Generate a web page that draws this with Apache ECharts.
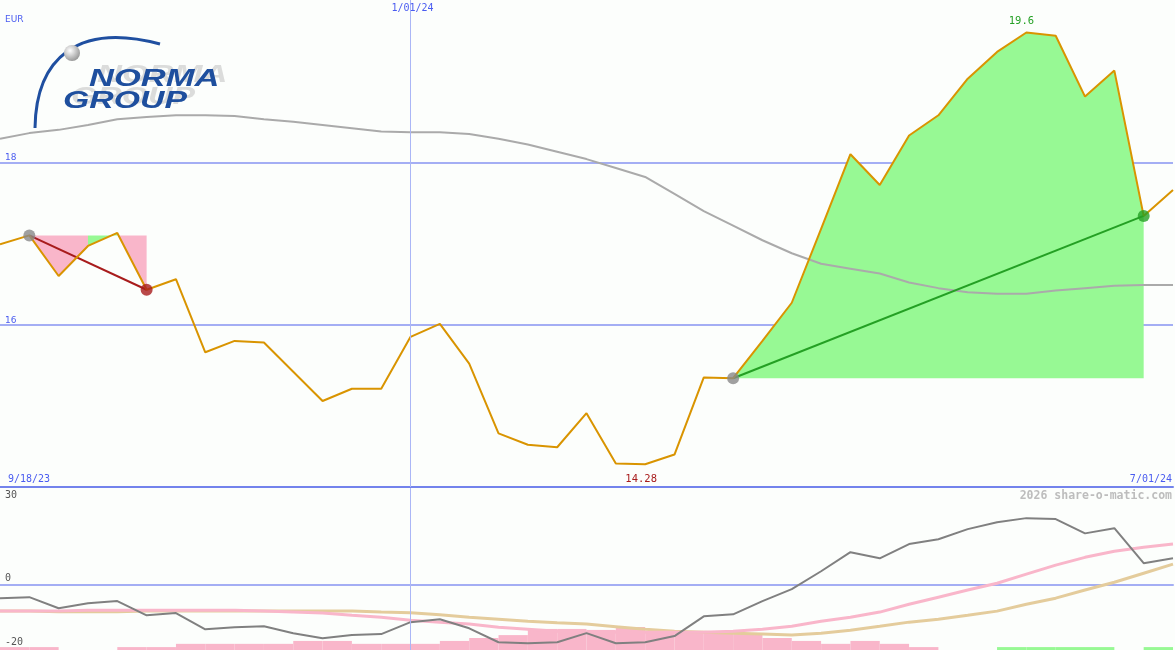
<!DOCTYPE html>
<html><head><meta charset="utf-8">
<script src="https://cdn.jsdelivr.net/npm/echarts@6/dist/echarts.min.js"></script>
<style>html,body{margin:0;padding:0;background:#fcfefc}#c{width:1175px;height:650px}</style>
</head><body><div id="c"></div>
<script>
// ---------- data ----------
const currency = 'EUR';
const dateLabels = ['9/18/23', '1/01/24', '7/01/24'];
const newYearIndex = 14;
const brand = ['NORMA', 'GROUP'];
const credit = '2026 share-o-matic.com';
const priceTicks = [16, 18];
const oscTicks = [30, 0, -20];

const price = [16.99, 17.10, 16.60, 16.97, 17.13, 16.43, 16.56, 15.66, 15.80, 15.78,
  15.42, 15.06, 15.21, 15.21, 15.85, 16.01, 15.52, 14.66, 14.52, 14.49,
  14.91, 14.29, 14.28, 14.40, 15.35, 15.34, 15.80, 16.27, 17.18, 18.10,
  17.72, 18.33, 18.58, 19.03, 19.36, 19.60, 19.56, 18.81, 19.13, 17.34, 17.66];

const movingAvg = [18.29, 18.36, 18.40, 18.46, 18.53, 18.56, 18.58, 18.58, 18.57, 18.53,
  18.50, 18.46, 18.42, 18.38, 18.37, 18.37, 18.35, 18.29, 18.22, 18.13,
  18.04, 17.93, 17.82, 17.61, 17.40, 17.22, 17.04, 16.88, 16.75, 16.69,
  16.63, 16.52, 16.45, 16.40, 16.38, 16.38, 16.42, 16.45, 16.48, 16.49, 16.49];

const oscillator = [-4.0, -3.7, -7.1, -5.6, -4.9, -9.3, -8.6, -13.6, -13.0, -12.7,
  -14.8, -16.4, -15.4, -15.1, -11.4, -10.5, -13.3, -17.6, -17.9, -17.6,
  -14.8, -17.9, -17.6, -15.7, -9.6, -9.0, -4.9, -1.2, 4.3, 10.2,
  8.3, 12.7, 14.2, 17.3, 19.4, 20.7, 20.4, 16.0, 17.6, 6.8, 8.3];

const signalLine = [-8.0, -8.0, -8.0, -7.7, -7.7, -7.7, -7.7, -7.7, -7.7, -8.0,
  -8.3, -8.6, -9.3, -9.9, -10.8, -11.4, -12.0, -13.0, -13.6, -14.2,
  -14.5, -14.5, -14.5, -14.5, -14.5, -14.2, -13.6, -12.7, -11.1, -9.9,
  -8.3, -5.9, -3.7, -1.5, 0.6, 3.4, 6.2, 8.6, 10.5, 11.7, 12.7];

const slowLine = [-8.0, -8.0, -8.2, -8.2, -8.2, -8.0, -8.0, -8.0, -8.0, -8.0,
  -8.0, -8.0, -8.0, -8.3, -8.5, -9.1, -9.9, -10.5, -11.1, -11.6,
  -12.0, -12.8, -13.6, -14.2, -14.5, -14.8, -15.1, -15.4, -14.8, -13.9,
  -12.7, -11.4, -10.5, -9.3, -8.0, -5.9, -4.0, -1.5, 0.9, 3.7, 6.5];

const histogram = [-0.9, -0.9, 0, 0, -0.9, -0.9, -1.9, -1.9, -1.9, -1.9,
  -2.8, -2.8, -1.9, -1.9, -1.9, -2.8, -3.7, -4.6, -6.5, -6.5,
  -6.2, -7.1, -5.9, -5.9, -5.9, -4.9, -3.7, -2.8, -1.9, -2.8,
  -1.9, -0.9, 0, 0, 0.9, 0.9, 0.9, 0.9, 0, 0.9];

const trades = [{ start: 1, end: 5 }, { start: 25, end: 39 }];
const zones = [[1, 3, 'down'], [3, 4, 'up'], [4, 5, 'down'], [25, 39, 'up']];

// ---------- styles ----------
const C = {
  bg: '#fcfefc', blue: '#4a5cf0', grid: '#a4aef4', axis: '#7383ec', vline: '#aab6f6',
  price: '#d99400', ma: '#aaaaaa', osc: '#808080', pink: '#f9b6ca', tan: '#e4cc9c',
  green: '#97f994', red: '#a81c1c', dgreen: '#24a024', dot: '#888888'
};
const N = price.length - 1;
const idx = a => a.map((v, i) => [i, v]);
const levelOf = i => { const t = trades.find(t => i >= t.start && i <= t.end); return price[t.start]; };

const chart = echarts.init(document.getElementById('c'), null, { renderer: 'canvas' });

const option = {
  animation: false,
  backgroundColor: C.bg,
  grid: [
    { left: 0, right: 2, top: -2, height: 489 },
    { left: 0, right: 2, top: 488, height: 162 }
  ],
  xAxis: [
    { type: 'value', gridIndex: 0, min: 0, max: N, axisLabel: { show: false }, axisTick: { show: false },
      splitLine: { show: false }, axisLine: { show: true, onZero: false, lineStyle: { color: C.axis, width: 2 } } },
    { type: 'value', gridIndex: 1, min: 0, max: N, axisLabel: { show: false }, axisTick: { show: false },
      splitLine: { show: false }, axisLine: { show: true, onZero: true, lineStyle: { color: C.grid, width: 2 } } }
  ],
  yAxis: [
    { type: 'value', gridIndex: 0, min: 14, max: 20, interval: 2,
      axisLine: { show: false }, axisTick: { show: false },
      splitLine: { show: true, showMaxLine: false, showMinLine: false, lineStyle: { color: C.grid, width: 2 } },
      axisLabel: { show: true, inside: true, margin: 5, verticalAlign: 'bottom', color: C.blue,
        fontFamily: 'DejaVu Sans', fontSize: 9, showMinLabel: false, showMaxLabel: false,
        formatter: v => priceTicks.includes(v) ? String(v) : '' } },
    { type: 'value', gridIndex: 1, min: oscTicks[2], max: oscTicks[0],
      axisLine: { show: false }, axisTick: { show: false }, splitLine: { show: false }, axisLabel: { show: false } }
  ],
  series: [
    { type: 'custom', xAxisIndex: 0, yAxisIndex: 0, z: 1,
      data: zones.map(z => [z[0], z[1], levelOf(z[0])]),
      encode: { x: [0, 1], y: 2 },
      renderItem: (params, api) => {
        const s = api.value(0), e = api.value(1), lvl = api.value(2);
        const pts = [api.coord([s, lvl]), api.coord([e, lvl])];
        for (let i = e; i >= s; i--) pts.push(api.coord([i, price[i]]));
        return { type: 'polygon', shape: { points: pts },
          style: { fill: zones[params.dataIndex][2] === 'up' ? C.green : C.pink } };
      } },
    { type: 'line', xAxisIndex: 0, yAxisIndex: 0, z: 2, data: idx(movingAvg), symbol: 'none',
      lineStyle: { color: C.ma, width: 2 },
      markLine: { silent: true, symbol: 'none', label: { show: false },
        lineStyle: { color: C.vline, width: 1, type: 'solid' }, data: [{ xAxis: newYearIndex }] } },
    ...trades.map(t => ({
      type: 'line', xAxisIndex: 0, yAxisIndex: 0, z: 3, symbol: 'none',
      data: [[t.start, price[t.start]], [t.end, price[t.end]]],
      lineStyle: { color: price[t.end] < price[t.start] ? C.red : C.dgreen, width: 2 }
    })),
    { type: 'line', xAxisIndex: 0, yAxisIndex: 0, z: 4, data: idx(price), symbol: 'none',
      lineStyle: { color: C.price, width: 2 } },
    { type: 'scatter', xAxisIndex: 0, yAxisIndex: 0, z: 5, symbolSize: 12,
      data: trades.flatMap(t => [
        { value: [t.start, price[t.start]], itemStyle: { color: C.dot } },
        { value: [t.end, price[t.end]], itemStyle: { color: price[t.end] < price[t.start] ? C.red : C.dgreen } }
      ]) },
    // lower panel
    { type: 'custom', xAxisIndex: 1, yAxisIndex: 1, z: 1,
      data: idx(histogram),
      renderItem: (params, api) => {
        const i = api.value(0), h = api.value(1);
        if (!h) return null;
        const p0 = api.coord([i, oscTicks[2]]), p1 = api.coord([i + 1, oscTicks[2] + Math.abs(h)]);
        return { type: 'rect', shape: { x: p0[0], y: p1[1], width: p1[0] - p0[0], height: p0[1] - p1[1] },
          style: { fill: h < 0 ? C.pink : C.green } };
      } },
    { type: 'line', xAxisIndex: 1, yAxisIndex: 1, z: 2, data: idx(slowLine), symbol: 'none',
      lineStyle: { color: C.tan, width: 3 } },
    { type: 'line', xAxisIndex: 1, yAxisIndex: 1, z: 3, data: idx(signalLine), symbol: 'none',
      lineStyle: { color: C.pink, width: 3 } },
    { type: 'line', xAxisIndex: 1, yAxisIndex: 1, z: 4, data: idx(oscillator), symbol: 'none',
      lineStyle: { color: C.osc, width: 2 },
      markLine: { silent: true, symbol: 'none', label: { show: false },
        lineStyle: { color: C.vline, width: 1, type: 'solid' }, data: [{ xAxis: newYearIndex }] } }
  ]
};
chart.setOption(option);

// ---------- text & logo ----------
const px = (g, p) => chart.convertToPixel({ gridIndex: g }, p);
const mono = (s, w) => (w || 'normal') + ' ' + s + 'px "DejaVu Sans Mono"';
const hiI = price.indexOf(Math.max(...price));
const loI = price.indexOf(Math.min(...price));
const txt = (text, x, y, fill, font, align) => ({ type: 'text', z: 100, style: { text, x, y, fill, font, align: align || 'left', verticalAlign: 'middle' } });
const logoFont = 'italic bold 23px "Liberation Sans"';

const g = [
  txt(currency, 5, 20, C.blue, '9px "DejaVu Sans"'),
  txt(dateLabels[1], px(0, [newYearIndex, 14])[0] + 2, 8, C.blue, mono(10), 'center'),
  txt(dateLabels[0], 8, 479, C.blue, mono(10)),
  txt(dateLabels[2], 1172, 479, C.blue, mono(10), 'right'),
  txt(String(price[loI]), px(0, [loI, price[loI]])[0] - 4, 479, C.red, mono(10.5), 'center'),
  txt(String(price[hiI]), px(0, [hiI, price[hiI]])[0] - 5, 21, C.dgreen, mono(10.5), 'center'),
  txt(credit, 1172, 496, '#bdbdbd', mono(11.5, 'bold'), 'right'),
  txt(String(oscTicks[0]), 5, px(1, [0, oscTicks[0]])[1] + 7, '#555', mono(10)),
  txt(String(oscTicks[1]), 5, px(1, [0, oscTicks[1]])[1] - 7, '#555', mono(10)),
  txt(String(oscTicks[2]), 5, px(1, [0, oscTicks[2]])[1] - 8, '#555', mono(10)),
  // logo
  { type: 'bezierCurve', z: 90,
    shape: { x1: 35, y1: 128, cpx1: 36, cpy1: 58, cpx2: 78, cpy2: 22, x2: 160, y2: 44 },
    style: { stroke: '#1f4fa0', lineWidth: 3, fill: null } },
  { type: 'circle', z: 91, shape: { cx: 72, cy: 53, r: 8 },
    style: { fill: { type: 'radial', x: 0.38, y: 0.35, r: 0.75,
      colorStops: [{ offset: 0, color: '#ffffff' }, { offset: 1, color: '#8c8c8c' }] } } },
  { type: 'text', z: 90, x: 97, y: 76, scaleX: 1.5,
    style: { text: brand[0], font: logoFont, fill: 'rgba(180,180,180,0.45)', verticalAlign: 'middle',
      shadowBlur: 6, shadowColor: 'rgba(160,160,160,0.6)' } },
  { type: 'text', z: 90, x: 71, y: 98, scaleX: 1.47,
    style: { text: brand[1], font: logoFont, fill: 'rgba(180,180,180,0.45)', verticalAlign: 'middle',
      shadowBlur: 6, shadowColor: 'rgba(160,160,160,0.6)' } },
  { type: 'text', z: 92, x: 89, y: 80, scaleX: 1.5,
    style: { text: brand[0], font: logoFont, fill: '#1e4f9e', verticalAlign: 'middle' } },
  { type: 'text', z: 92, x: 63, y: 102, scaleX: 1.47,
    style: { text: brand[1], font: logoFont, fill: '#1e4f9e', verticalAlign: 'middle' } }
];
chart.setOption({ graphic: g });
</script></body></html>
